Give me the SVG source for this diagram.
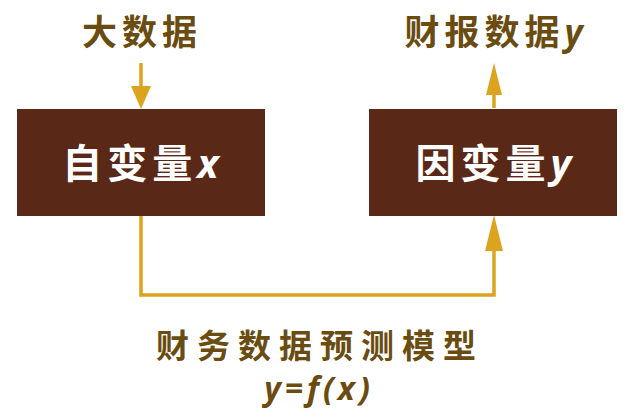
<svg xmlns="http://www.w3.org/2000/svg" width="627" height="414" viewBox="0 0 627 414">
<style>
.box{fill:#5a2817;}
.lbl{font-family:"Noto Sans CJK SC","Noto Sans",sans-serif;font-weight:bold;fill:#6b4c10;font-size:35px;letter-spacing:5px;}
.in{font-family:"Noto Sans CJK SC","Noto Sans",sans-serif;font-weight:bold;fill:#ffffff;font-size:40px;letter-spacing:5px;}
.it{font-family:"Noto Sans","DejaVu Sans",sans-serif;font-style:italic;font-weight:bold;}
.ln{fill:none;stroke:#dca41e;stroke-width:3.5;}
.hd{fill:#dca41e;}
</style>
<rect width="627" height="414" fill="#ffffff"/>
<g id="connectors">
<line class="ln" x1="141" y1="63" x2="141" y2="88"/>
<polygon class="hd" points="131,86 151,86 141,109"/>
<line class="ln" x1="494" y1="108" x2="494" y2="92"/>
<polygon class="hd" points="486,95 502,95 494,63"/>
<polyline class="ln" points="141,215 141,295 494,295 494,248"/>
<polygon class="hd" points="485,251 503,251 494,215"/>
</g>
<g id="node-bigdata">
<text class="lbl" x="142" y="45" text-anchor="middle">大数据</text>
</g>
<g id="node-report">
<text class="lbl" x="496" y="45" text-anchor="middle">财报数据<tspan class="it">y</tspan></text>
</g>
<g id="node-x">
<rect class="box" x="17" y="109" width="248" height="107"/>
<text class="in" x="143" y="178" text-anchor="middle">自变量<tspan class="it">x</tspan></text>
</g>
<g id="node-y">
<rect class="box" x="369" y="109" width="248" height="107"/>
<text class="in" x="496" y="178" text-anchor="middle">因变量<tspan class="it">y</tspan></text>
</g>
<g id="node-model">
<text class="lbl" x="320" y="358" text-anchor="middle" style="font-size:33px;letter-spacing:8px">财务数据预测模型</text>
<text class="lbl it" x="319" y="400" text-anchor="middle" style="font-size:32px;letter-spacing:4px">y=f(x)</text>
</g>
</svg>
